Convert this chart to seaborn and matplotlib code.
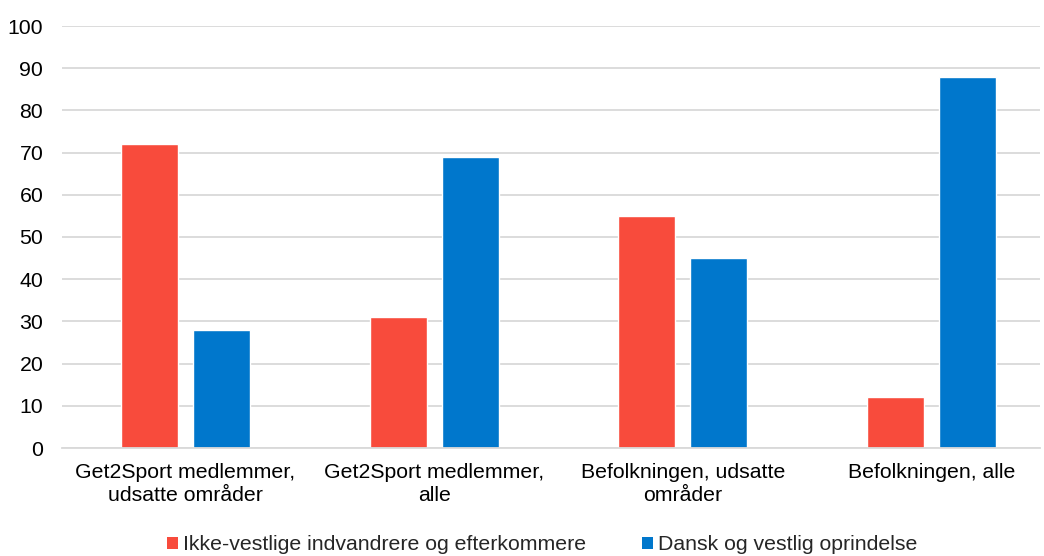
import matplotlib
matplotlib.use("Agg")
import matplotlib.pyplot as plt
import seaborn as sns
import pandas as pd
from matplotlib.patches import Patch

categories = ["Get2Sport medlemmer,\nudsatte områder", "Get2Sport medlemmer,\nalle",
              "Befolkningen, udsatte\nområder", "Befolkningen, alle"]
series_names = ["Ikke-vestlige indvandrere og efterkommere", "Dansk og vestlig oprindelse"]
ikke_vestlige = [72, 31, 55, 12]
dansk_vestlig = [28, 69, 45, 88]
yticks = [0, 10, 20, 30, 40, 50, 60, 70, 80, 90, 100]
colors = ["#F84B3C", "#0077CC"]

df = pd.DataFrame({
    "cat": categories * 2,
    "series": [series_names[0]] * 4 + [series_names[1]] * 4,
    "value": ikke_vestlige + dansk_vestlig,
})

sns.set_theme(style="white")
plt.rcParams["font.family"] = ["Liberation Sans", "DejaVu Sans"]

W, H = 1044, 556
fig = plt.figure(figsize=(W / 100, H / 100), dpi=100)
ax = fig.add_axes([62 / W, (H - 448) / H, (1040 - 62) / W, 422 / H])
sns.barplot(data=df, x="cat", y="value", hue="series", palette=colors,
            width=0.58, gap=0.21, ax=ax, legend=False, saturation=1)

ax.set_ylim(0, 100)
ax.set_yticks(yticks)
ax.set_xlim(-0.4966, 3.436)
ax.yaxis.grid(True, color="#D9D9D9", linewidth=1.3)
ax.set_axisbelow(True)
for s in ["top", "right", "left"]:
    ax.spines[s].set_visible(False)
ax.spines["bottom"].set_color("#D9D9D9")
ax.spines["bottom"].set_linewidth(1.3)
ax.set_xlabel("")
ax.set_ylabel("")
ax.tick_params(axis="both", length=0, labelsize=15.3, colors="black")
ax.tick_params(axis="y", pad=13.5)
ax.tick_params(axis="x", pad=11)
for lbl in ax.get_xticklabels():
    lbl.set_linespacing(1.25)

handles = [Patch(facecolor=c, edgecolor="none") for c in colors]
fig.legend(handles, series_names, loc="center", bbox_to_anchor=(542 / W, 11 / H),
           ncol=2, frameon=False, fontsize=15.3, handlelength=0.52, handleheight=0.52,
           handletextpad=0.24, columnspacing=2.6, borderpad=0, borderaxespad=0)

fig.savefig("out.png", dpi=100)
